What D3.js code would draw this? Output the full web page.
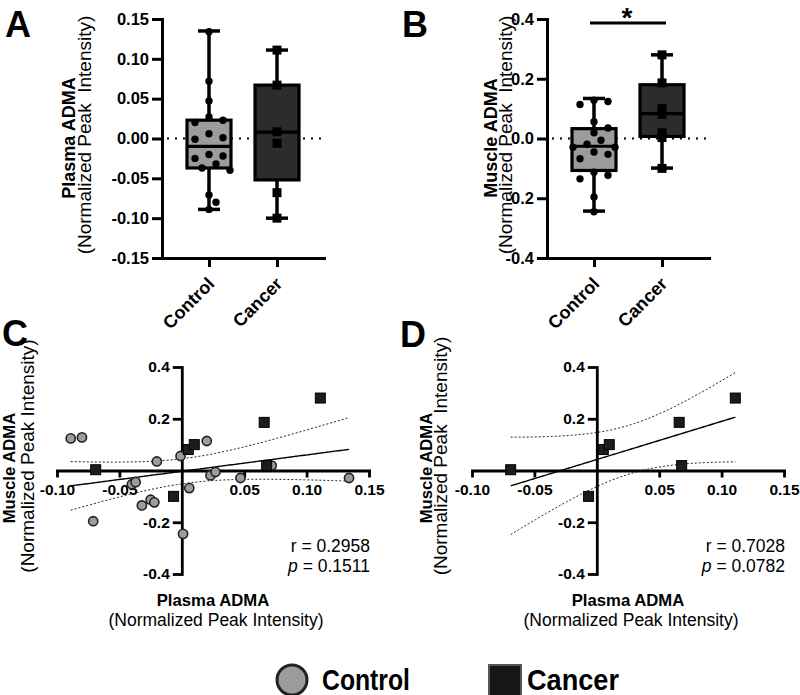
<!DOCTYPE html>
<html>
<head>
<meta charset="utf-8">
<script src="https://cdn.jsdelivr.net/npm/d3@7"></script>
<style>
body { margin: 0; background: #fff; }
svg text { font-family: "Liberation Sans", Arial, Helvetica, sans-serif; fill: #000; }
</style>
</head>
<body>
<svg id="fig" width="800" height="695"></svg>
<script>
const groups = ["Control", "Cancer"];

// paired plasma / muscle values, one entry per subject
const ctrlPlasma = [-0.089, -0.080, -0.071, -0.040, -0.037, -0.032, -0.025, -0.022, -0.020, -0.001, 0.001, 0.006, 0.020, 0.023, 0.027, 0.047, 0.072, 0.134];
const ctrlMuscle = [0.124, 0.128, -0.196, -0.053, -0.045, -0.135, -0.113, -0.123, 0.035, 0.056, -0.245, -0.068, 0.114, -0.019, -0.006, -0.029, 0.019, -0.029];
const cancPlasma = [-0.069, -0.0066, 0.0052, 0.010, 0.066, 0.068, 0.111];
const cancMuscle = [0.003, -0.100, 0.081, 0.100, 0.186, 0.019, 0.280];
// panel A only shows six cancer points
const cancPlasmaBox = [0.111, 0.067, 0.0085, -0.006, -0.068, -0.100];

// box summaries: min, q1, median, q3, max
const boxPlasmaCtrl = [-0.089, -0.037, -0.010, 0.023, 0.135];
const boxPlasmaCanc = [-0.100, -0.052, 0.008, 0.067, 0.111];
const boxMuscleCtrl = [-0.243, -0.107, -0.026, 0.033, 0.134];
const boxMuscleCanc = [-0.099, 0.007, 0.083, 0.180, 0.280];

const plasmaTicks = [-0.15, -0.10, -0.05, 0, 0.05, 0.10, 0.15];
const muscleTicks = [-0.4, -0.2, 0, 0.2, 0.4];
const scatXTicks = [-0.10, -0.05, 0.05, 0.10, 0.15];
const scatYTicks = [-0.4, -0.2, 0.2, 0.4];

const statsC = ["0.2958", "0.1511"];
const statsD = ["0.7028", "0.0782"];
const tCritC = 2.069; // df = 23
const tCritD = 2.571; // df = 5

const ctrlFill = "#9c9c9c", cancFill = "#2c2c2c";
const svg = d3.select("#fig");

function styleAxis(ax, fs, sw) {
    ax.select(".domain").attr("stroke-width", sw).attr("stroke-linecap", "square");
    ax.selectAll(".tick line").attr("stroke-width", sw);
    ax.selectAll(".tick text").attr("font-size", fs).attr("font-weight", "bold").attr("fill", "#000");
}

// simple beeswarm: push a dot sideways until it clears the ones already placed
function swarm(vals, y, cx, minDist, step) {
    const placed = [];
    return vals.slice().sort((a, b) => b - a).map(v => {
        const py = y(v);
        const cands = [0];
        for (let i = 1; i < 6; i++) cands.push(i * step, -i * step);
        let off = 0;
        for (const c of cands) {
            if (placed.every(p => Math.hypot(p[0] - c, p[1] - py) >= minDist)) { off = c; break; }
        }
        placed.push([off, py]);
        return [cx + off, py];
    });
}

function boxPanel(x0, domain, ticks, fmt, boxes, circleVals, squareVals, titleB, titleN, tx) {
    const g = svg.append("g");
    const x = d3.scalePoint().domain(groups).range([x0, x0 + 162]).padding(0.691);
    const y = d3.scaleLinear().domain(domain).range([258, 19]);

    g.append("line")
        .attr("x1", x0 + 5).attr("x2", x0 + 162)
        .attr("y1", y(0)).attr("y2", y(0))
        .attr("stroke", "#000").attr("stroke-width", 2.2)
        .attr("stroke-dasharray", "2,6");

    groups.forEach((grp, i) => {
        const b = boxes[i], cx = x(grp);
        g.append("line").attr("x1", cx).attr("x2", cx).attr("y1", y(b[0])).attr("y2", y(b[4]))
            .attr("stroke", "#000").attr("stroke-width", 3.5);
        [b[0], b[4]].forEach(v => {
            g.append("line").attr("x1", cx - 11).attr("x2", cx + 11).attr("y1", y(v)).attr("y2", y(v))
                .attr("stroke", "#000").attr("stroke-width", 3.5);
        });
        g.append("rect").attr("x", cx - 22).attr("width", 44)
            .attr("y", y(b[3])).attr("height", y(b[1]) - y(b[3]))
            .attr("fill", i == 0 ? ctrlFill : cancFill)
            .attr("stroke", "#000").attr("stroke-width", 3.2);
        g.append("line").attr("x1", cx - 22).attr("x2", cx + 22).attr("y1", y(b[2])).attr("y2", y(b[2]))
            .attr("stroke", "#000").attr("stroke-width", 3.2);
    });

    g.selectAll("circle.pt").data(swarm(circleVals, y, x("Control"), 10, 7)).enter()
        .append("circle").attr("class", "pt")
        .attr("cx", d => d[0]).attr("cy", d => d[1]).attr("r", 3.7).attr("fill", "#000");
    g.selectAll("rect.pt").data(squareVals).enter()
        .append("rect").attr("class", "pt")
        .attr("x", x("Cancer") - 4.5).attr("y", d => y(d) - 4.5)
        .attr("width", 9).attr("height", 9).attr("fill", "#000");

    const ay = g.append("g").attr("transform", "translate(" + x0 + ",0)")
        .call(d3.axisLeft(y).tickValues(ticks).tickFormat(fmt).tickSize(10).tickPadding(3).tickSizeOuter(0));
    styleAxis(ay, 16.5, 3);
    const axx = g.append("g").attr("transform", "translate(0,258)")
        .call(d3.axisBottom(x).tickSize(9).tickSizeOuter(0));
    styleAxis(axx, 18, 3);
    axx.selectAll(".tick text")
        .attr("text-anchor", "end").attr("x", 0).attr("y", 0).attr("dy", 0)
        .attr("transform", "translate(6,27) rotate(-45)");

    g.append("text").attr("transform", "translate(" + tx[0] + ",138) rotate(-90)")
        .attr("text-anchor", "middle").attr("font-size", 18).attr("font-weight", "bold").text(titleB);
    g.append("text").attr("transform", "translate(" + tx[1] + ",135) rotate(-90)")
        .attr("text-anchor", "middle").attr("font-size", 19).style("white-space", "pre").text(titleN);
    return g;
}

function fitLine(xs, ys) {
    const n = xs.length, mx = d3.mean(xs), my = d3.mean(ys);
    let sxx = 0, sxy = 0, syy = 0;
    xs.forEach((v, i) => { sxx += (v - mx) ** 2; sxy += (v - mx) * (ys[i] - my); syy += (ys[i] - my) ** 2; });
    const b = sxy / sxx, a = my - b * mx;
    const s = Math.sqrt((syy - b * sxy) / (n - 2));
    return { a, b, s, n, mx, sxx };
}

function scatterPanel(x0, ctrl, canc, tCrit, stats, yTitleN, tx) {
    const g = svg.append("g");
    const x = d3.scaleLinear().domain([-0.1, 0.15]).range([x0, x0 + 312]);
    const y = d3.scaleLinear().domain([-0.4, 0.4]).range([574, 367]);

    let xs = canc[0].slice(), ys = canc[1].slice();
    if (ctrl) { xs = xs.concat(ctrl[0]); ys = ys.concat(ctrl[1]); }
    const f = fitLine(xs, ys);
    const grid = d3.range(101).map(i => d3.min(xs) + (d3.max(xs) - d3.min(xs)) * i / 100);
    const band = sgn => grid.map(v => [v, f.a + f.b * v + sgn * tCrit * f.s * Math.sqrt(1 / f.n + (v - f.mx) ** 2 / f.sxx)]);
    const line = d3.line().x(d => x(d[0])).y(d => y(d[1]));

    const ax = g.append("g").attr("transform", "translate(0," + y(0) + ")")
        .call(d3.axisBottom(x).tickValues(scatXTicks).tickFormat(d => d.toFixed(2)).tickSize(7).tickPadding(6).tickSizeOuter(0));
    styleAxis(ax, 15.5, 2.8);
    const ay = g.append("g").attr("transform", "translate(" + x(0) + ",0)")
        .call(d3.axisLeft(y).tickValues(scatYTicks).tickFormat(d => d.toFixed(1)).tickSize(9).tickPadding(3).tickSizeOuter(0));
    styleAxis(ay, 15.5, 2.8);

    [1, -1].forEach(sgn => {
        g.append("path").attr("d", line(band(sgn))).attr("fill", "none")
            .attr("stroke", "#222").attr("stroke-width", 1).attr("stroke-dasharray", "2,2");
    });
    g.append("path").attr("d", line(grid.map(v => [v, f.a + f.b * v]))).attr("fill", "none")
        .attr("stroke", "#000").attr("stroke-width", 1.4);

    if (ctrl) {
        g.selectAll("circle.pt").data(ctrl[0].map((v, i) => [v, ctrl[1][i]])).enter()
            .append("circle").attr("class", "pt")
            .attr("cx", d => x(d[0])).attr("cy", d => y(d[1])).attr("r", 4.6)
            .attr("fill", ctrlFill).attr("stroke", "#222").attr("stroke-width", 1.6);
    }
    g.selectAll("rect.pt").data(canc[0].map((v, i) => [v, canc[1][i]])).enter()
        .append("rect").attr("class", "pt")
        .attr("x", d => x(d[0]) - 5).attr("y", d => y(d[1]) - 5).attr("width", 10).attr("height", 10)
        .attr("fill", "#1c1c1c").attr("stroke", "#000").attr("stroke-width", 1);

    const right = x0 + 313;
    g.append("text").attr("x", right).attr("y", 552).attr("text-anchor", "end").attr("font-size", 17.5)
        .text("r = " + stats[0]);
    const pt = g.append("text").attr("x", right).attr("y", 572).attr("text-anchor", "end").attr("font-size", 17.5);
    pt.append("tspan").attr("font-style", "italic").text("p");
    pt.append("tspan").text(" = " + stats[1]);

    const cx = x0 + 156;
    g.append("text").attr("x", cx).attr("y", 606).attr("text-anchor", "middle")
        .attr("font-size", 16.7).attr("font-weight", "bold").text("Plasma ADMA");
    g.append("text").attr("x", cx + 3).attr("y", 626).attr("text-anchor", "middle")
        .attr("font-size", 17.5).text("(Normalized Peak Intensity)");
    g.append("text").attr("transform", "translate(" + tx[0] + ",468) rotate(-90)")
        .attr("text-anchor", "middle").attr("font-size", 16.7).attr("font-weight", "bold").text("Muscle ADMA");
    g.append("text").attr("transform", "translate(" + tx[1] + ",456) rotate(-90)")
        .attr("text-anchor", "middle").attr("font-size", 19).style("white-space", "pre").text(yTitleN);
}

boxPanel(162, [-0.15, 0.15], plasmaTicks, d => d.toFixed(2),
    [boxPlasmaCtrl, boxPlasmaCanc], ctrlPlasma, cancPlasmaBox,
    "Plasma ADMA", "(Normalized Peak  Intensity)", [75, 91]);
const gB = boxPanel(547, [-0.4, 0.4], muscleTicks, d => d.toFixed(1),
    [boxMuscleCtrl, boxMuscleCanc], ctrlMuscle, cancMuscle,
    "Muscle ADMA", "(Normalized Peak  Intensity)", [497, 512]);

// significance bar
gB.append("line").attr("x1", 590).attr("x2", 666).attr("y1", 23).attr("y2", 23)
    .attr("stroke", "#000").attr("stroke-width", 3.2);
gB.append("text").attr("x", 627).attr("y", 27).attr("text-anchor", "middle")
    .attr("font-size", 28).attr("font-weight", "bold").text("*");

scatterPanel(57, [ctrlPlasma, ctrlMuscle], [cancPlasma, cancMuscle], tCritC, statsC,
    "(Normalized Peak Intensity)", [15, 34]);
scatterPanel(472, null, [cancPlasma, cancMuscle], tCritD, statsD,
    "(Normalized Peak  Intensity)", [432, 447]);

// panel letters
[["A", 5, 37], ["B", 402, 37], ["C", 2, 346], ["D", 400, 347]].forEach(l => {
    svg.append("text").attr("x", l[1]).attr("y", l[2]).attr("font-size", 36).attr("font-weight", "bold").text(l[0]);
});

// legend
const lg = svg.append("g");
lg.append("circle").attr("cx", 292).attr("cy", 680).attr("r", 15)
    .attr("fill", ctrlFill).attr("stroke", "#222").attr("stroke-width", 3);
lg.append("text").attr("x", 322).attr("y", 690).attr("font-size", 30).attr("font-weight", "bold")
    .attr("textLength", 88).attr("lengthAdjust", "spacingAndGlyphs").text(groups[0]);
lg.append("rect").attr("x", 489).attr("y", 665).attr("width", 32).attr("height", 32)
    .attr("fill", "#161616").attr("stroke", "#555").attr("stroke-width", 2);
lg.append("text").attr("x", 527).attr("y", 690).attr("font-size", 30).attr("font-weight", "bold")
    .attr("textLength", 92).attr("lengthAdjust", "spacingAndGlyphs").text(groups[1]);
</script>
</body>
</html>
